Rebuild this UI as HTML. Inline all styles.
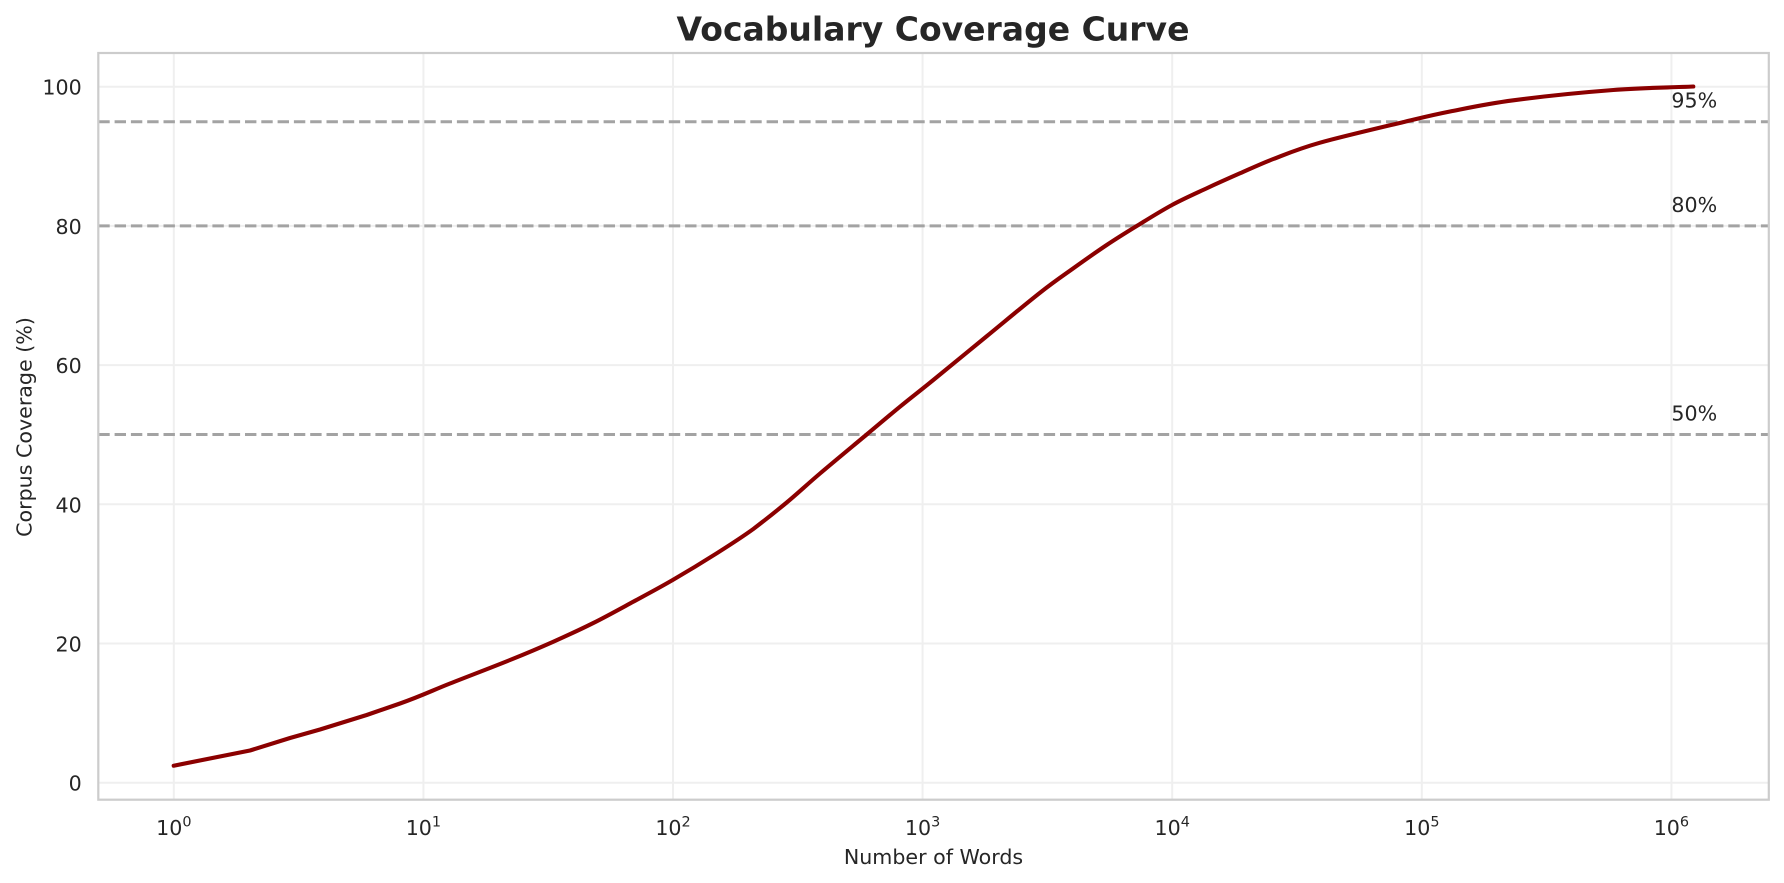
<!DOCTYPE html>
<html>
<head>
<meta charset="utf-8">
<style>
  html, body { margin: 0; padding: 0; background: #ffffff; }
  svg { display: block; }
  text { font-family: "DejaVu Sans", "Liberation Sans", sans-serif; fill: #262626; }
</style>
</head>
<body>
<svg width="1784" height="883" viewBox="0 0 1784 883" xmlns="http://www.w3.org/2000/svg">
  <rect x="0" y="0" width="1784" height="883" fill="#ffffff"/>

  <!-- Title -->
  <text x="933" y="40.5" font-size="33" font-weight="bold" text-anchor="middle">Vocabulary Coverage Curve</text>

  <!-- Grid lines -->
  <g stroke="#efefef" stroke-width="2">
    <line x1="173.8" y1="53" x2="173.8" y2="799.7"/>
    <line x1="423.4" y1="53" x2="423.4" y2="799.7"/>
    <line x1="673" y1="53" x2="673" y2="799.7"/>
    <line x1="922.6" y1="53" x2="922.6" y2="799.7"/>
    <line x1="1172.2" y1="53" x2="1172.2" y2="799.7"/>
    <line x1="1421.8" y1="53" x2="1421.8" y2="799.7"/>
    <line x1="1671.4" y1="53" x2="1671.4" y2="799.7"/>
    <line x1="98.3" y1="782.7" x2="1768.8" y2="782.7"/>
    <line x1="98.3" y1="643.5" x2="1768.8" y2="643.5"/>
    <line x1="98.3" y1="504.3" x2="1768.8" y2="504.3"/>
    <line x1="98.3" y1="365.1" x2="1768.8" y2="365.1"/>
    <line x1="98.3" y1="225.9" x2="1768.8" y2="225.9"/>
    <line x1="98.3" y1="86.7" x2="1768.8" y2="86.7"/>
  </g>

  <!-- Dashed reference lines -->
  <g stroke="#a3a3a3" stroke-width="3" stroke-dasharray="11.4 4.9">
    <line x1="98.3" y1="121.8" x2="1768.8" y2="121.8"/>
    <line x1="98.3" y1="225.9" x2="1768.8" y2="225.9"/>
    <line x1="98.3" y1="434.5" x2="1768.8" y2="434.5"/>
  </g>

  <!-- Reference labels -->
  <text x="1671.4" y="107.5" font-size="20.6">95%</text>
  <text x="1671.4" y="211.8" font-size="20.6">80%</text>
  <text x="1671.4" y="420.7" font-size="20.6">50%</text>

  <!-- Coverage curve -->
  <path fill="none" stroke="#8b0000" stroke-width="4.1" stroke-linejoin="round" stroke-linecap="round"
    d="M173.7,765.7
       L250,750.5
       L290,738
       L320,729.5
       L366.7,715
       L400,703.5
       C421.67,695.83 431.67,690.75 450,683.5
       C468.33,676.25 492.78,666.97 510,660
       C527.22,653.03 539.42,647.87 553.3,641.7
       C567.18,635.53 579.97,629.67 593.3,623
       C606.63,616.33 620.07,608.87 633.3,601.7
       C646.53,594.53 658.8,588.07 672.7,580
       C686.6,571.93 703.27,561.8 716.7,553.3
       C730.13,544.8 741.63,537.47 753.3,529
       C764.42,520.53 775.58,511.75 786.7,502.5
       C797.82,493.25 806.67,484.83 820,473.5
       C833.33,462.17 853.37,445.63 866.7,434.5
       C880.03,423.37 888.9,415.78 900,406.7
       C911.1,397.62 918.8,391.78 933.3,380
       C947.8,368.22 969.22,350.55 987,336
       C1004.78,321.45 1025.62,303.98 1040,292.7
       C1054.38,281.42 1062.18,276.25 1073.3,268.3
       C1084.42,260.35 1096.13,252.05 1106.7,245
       C1117.27,237.95 1125.82,232.67 1136.7,226
       C1147.58,219.33 1160.33,211.28 1172,205
       C1183.67,198.72 1195.37,193.58 1206.7,188.3
       C1218.03,183.02 1228.9,178.18 1240,173.3
       C1251.1,168.42 1259.97,164.1 1273.3,159
       C1286.63,153.9 1298.07,148.92 1320,142.7
       C1341.93,136.48 1383.23,126.9 1404.9,121.7
       C1426.57,116.5 1431.93,115.07 1450,111.5
       C1468.07,107.93 1486.08,103.88 1513.3,100.3
       C1540.52,96.72 1583.3,92.3 1613.3,90
       C1643.3,87.7 1666.6,87.67 1693.3,86.5"/>

  <!-- Spines -->
  <rect x="98.3" y="53" width="1670.5" height="746.7" fill="none" stroke="#cccccc" stroke-width="2.2"/>

  <!-- Y tick labels -->
  <g font-size="20.6" text-anchor="end">
    <text x="81.7" y="790.7">0</text>
    <text x="81.7" y="651.5">20</text>
    <text x="81.7" y="512.3">40</text>
    <text x="81.7" y="373.1">60</text>
    <text x="81.7" y="233.9">80</text>
    <text x="81.7" y="94.7">100</text>
  </g>

  <!-- X tick labels -->
  <g font-size="20.6" text-anchor="middle">
    <text x="173.8" y="835">10<tspan font-size="14.4" dy="-8.5">0</tspan></text>
    <text x="423.4" y="835">10<tspan font-size="14.4" dy="-8.5">1</tspan></text>
    <text x="673" y="835">10<tspan font-size="14.4" dy="-8.5">2</tspan></text>
    <text x="922.6" y="835">10<tspan font-size="14.4" dy="-8.5">3</tspan></text>
    <text x="1172.2" y="835">10<tspan font-size="14.4" dy="-8.5">4</tspan></text>
    <text x="1421.8" y="835">10<tspan font-size="14.4" dy="-8.5">5</tspan></text>
    <text x="1671.4" y="835">10<tspan font-size="14.4" dy="-8.5">6</tspan></text>
  </g>

  <!-- Axis labels -->
  <text x="933.5" y="864" font-size="20.6" text-anchor="middle">Number of Words</text>
  <text transform="translate(31.5,427) rotate(-90)" font-size="20.6" text-anchor="middle">Corpus Coverage (%)</text>
</svg>
</body>
</html>
